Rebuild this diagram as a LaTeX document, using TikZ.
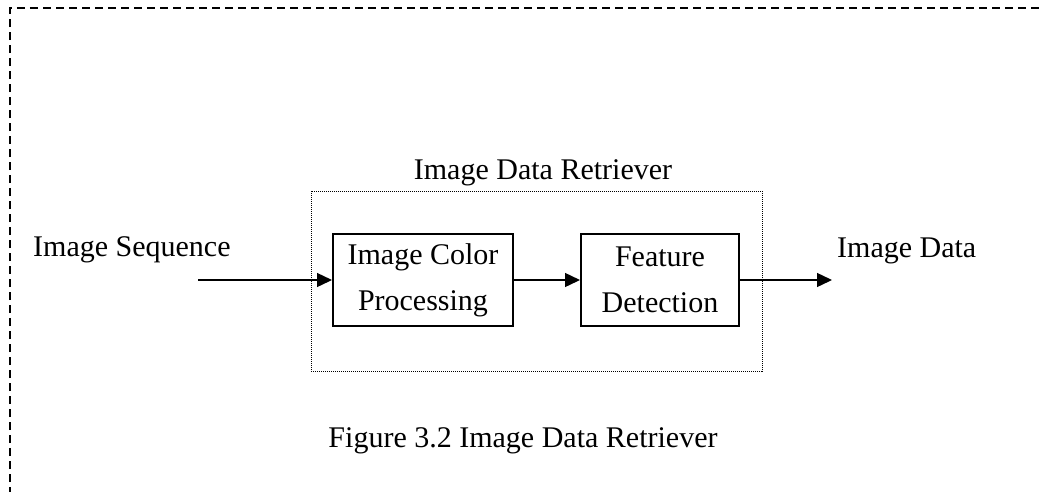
\documentclass[tikz,border=0pt]{standalone}
\usepackage{fontspec}
\setmainfont{Liberation Serif}
\usetikzlibrary{arrows.meta}

\tikzset{
  txt/.style={font=\fontsize{30}{46}\selectfont, inner sep=0pt, anchor=base},
  stage/.style={draw, line width=2pt, minimum width=180pt, minimum height=92pt,
    inner sep=0pt, align=center, font=\fontsize{30}{46}\selectfont},
  group/.style={draw, line width=1pt, dash pattern=on 1pt off 1pt,
    minimum width=451pt, minimum height=180pt, inner sep=0pt},
  flow/.style={line width=1.4pt, -{Triangle[length=15pt,width=14pt]}},
  frame/.style={line width=1.6pt, dash pattern=on 8pt off 5pt}
}

\begin{document}
\begin{tikzpicture}[x=1pt,y=-1pt]
  \useasboundingbox (0,0) rectangle (1042,491);

  % outer dashed frame (top and left edges)
  \draw[frame] (10,495) -- (10,8) -- (1046,8);

  % retriever group
  \node[group] (retr) at (536.5,281) {};
  \node[txt] (retrlbl) at (543,179) {Image Data Retriever};

  % processing stages
  \node[stage] (color) at (423,280) {Image Color\\Processing};
  \node[stage, minimum width=158pt] (feat) at (660,280) {Feature\\Detection};

  % external input and output
  \coordinate (src) at (198,280);
  \coordinate (dst) at (832,280);
  \node[txt, anchor=base west] (inlbl) at (33,256) {Image Sequence};
  \node[txt, anchor=base west] (outlbl) at (837,257) {Image Data};

  % data flow
  \draw[flow] (src) -- (color.west);
  \draw[flow] (color.east) -- (feat.west);
  \draw[flow] (feat.east) -- (dst);

  % caption
  \node[txt] (caption) at (523,447) {Figure 3.2 Image Data Retriever};
\end{tikzpicture}
\end{document}
